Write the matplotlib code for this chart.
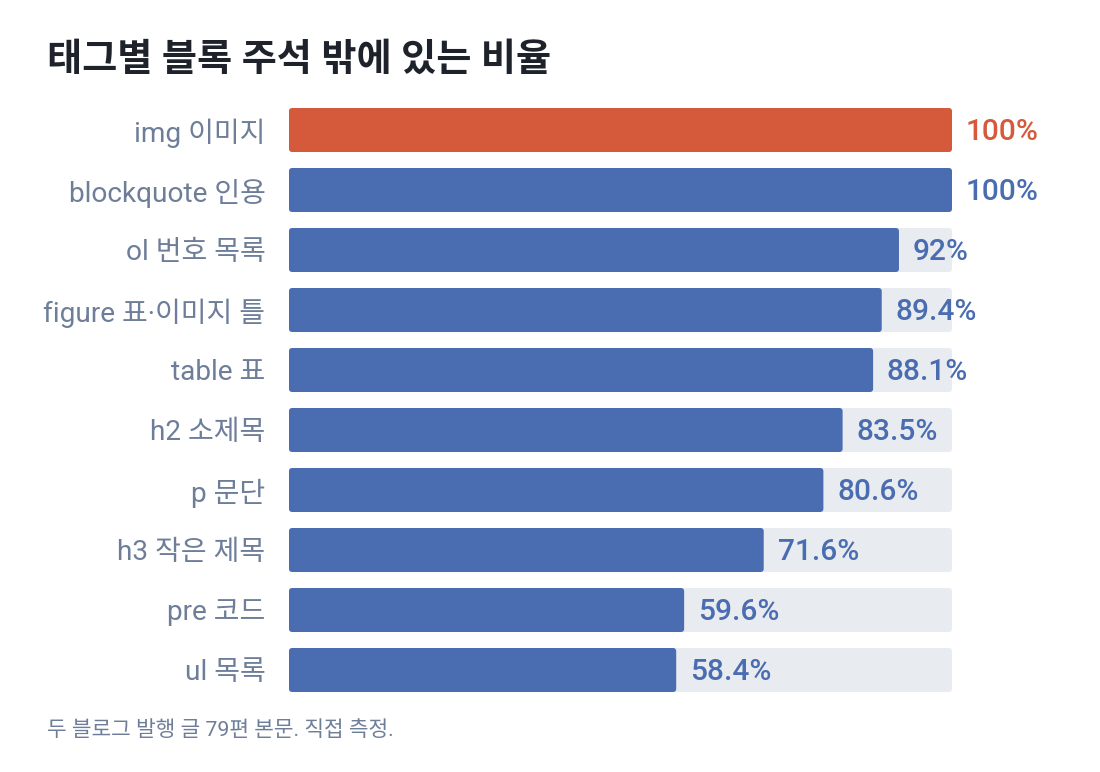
import matplotlib
matplotlib.use("Agg")
import matplotlib.pyplot as plt
from matplotlib.patches import FancyBboxPatch

plt.rcParams['font.family'] = ['Roboto', 'Noto Sans CJK KR', 'DejaVu Sans']

# data
categories = ['img 이미지', 'blockquote 인용', 'ol 번호 목록', 'figure 표·이미지 틀',
              'table 표', 'h2 소제목', 'p 문단', 'h3 작은 제목', 'pre 코드', 'ul 목록']
values = [100, 100, 92, 89.4, 88.1, 83.5, 80.6, 71.6, 59.6, 58.4]
value_labels = ['100%', '100%', '92%', '89.4%', '88.1%', '83.5%', '80.6%', '71.6%', '59.6%', '58.4%']
highlight = ['img 이미지']

BLUE = '#4A6CB0'
RED = '#D55A3C'
TRACK = '#E8EBF0'
LABEL = '#6E7E99'
TITLE = '#1E222B'

fig = plt.figure(figsize=(11, 7.72), dpi=100)
ax = fig.add_axes([289 / 1100, 1 - 700 / 772, 663 / 1100, 600 / 772])

ypos = list(range(len(categories)))
colors = [RED if c in highlight else BLUE for c in categories]
bh = 44 / 60

tracks = ax.barh(ypos, [100] * len(values), height=bh, color=TRACK)
bars = ax.barh(ypos, values, height=bh, color=colors)

# swap plain rectangles for slightly rounded ones
for group, z in ((tracks, 1), (bars, 2)):
    for rect in group:
        patch = FancyBboxPatch((rect.get_x(), rect.get_y()), rect.get_width(), rect.get_height(),
                               boxstyle='round,pad=0,rounding_size=0.5', mutation_aspect=0.11,
                               facecolor=rect.get_facecolor(), edgecolor='none', zorder=z)
        rect.remove()
        ax.add_patch(patch)

for y, v, lab, c in zip(ypos, values, value_labels, colors):
    ax.annotate(lab, (v, y), xytext=(10, -1.5), textcoords='offset points',
                ha='left', va='center', fontsize=21.5, fontweight='medium', color=c, zorder=3)

ax.set_xlim(0, 100)
ax.set_ylim(len(categories) - 0.5, -0.5)
ax.set_yticks(ypos)
ax.set_yticklabels(categories, fontsize=20.2, color=LABEL)
ax.tick_params(axis='y', length=0, pad=17)
ax.set_xticks([])
for s in ax.spines.values():
    s.set_visible(False)

fig.text(47 / 1100, 1 - 60 / 772, '태그별 블록 주석 밖에 있는 비율', fontsize=27.5,
         fontweight='bold', color=TITLE, ha='left', va='center')
fig.text(47 / 1100, 1 - 730 / 772, '두 블로그 발행 글 79편 본문. 직접 측정.', fontsize=15.4,
         color=LABEL, ha='left', va='center')

fig.savefig('out.png', dpi=100, facecolor='white')
